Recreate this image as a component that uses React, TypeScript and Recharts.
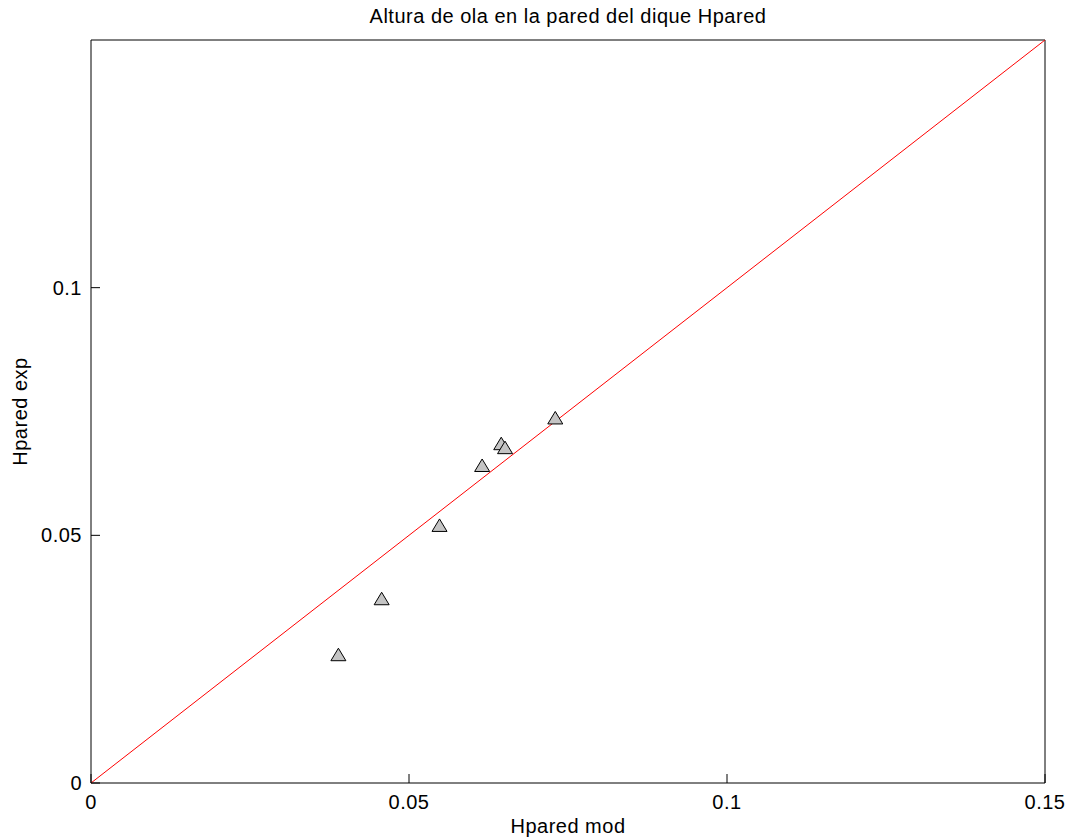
import React from "react"
import {
  ScatterChart,
  Scatter,
  XAxis,
  YAxis,
} from "recharts"

// Hpared mod (x) vs Hpared exp (y)
const hparedMod = [0.0389, 0.0457, 0.0548, 0.0615, 0.0645, 0.0651, 0.073]
const hparedExp = [0.0259, 0.0372, 0.052, 0.0641, 0.0685, 0.0677, 0.0737]

const identityX = [0, 0.15]
const identityY = [0, 0.15]

const xTicks = [0, 0.05, 0.1, 0.15]
const yTicks = [0, 0.05, 0.1]

const points = hparedMod.map((x, i) => ({ x, y: hparedExp[i] }))
const identity = identityX.map((x, i) => ({ x, y: identityY[i] }))

const FONT = "'Liberation Sans', Arial, Helvetica, sans-serif"
const FS = 20
const TICK = 9

const textStyle = { fontFamily: FONT, fontSize: FS, letterSpacing: 0.5, fill: "#000" }

const BottomTick = (props: any) => {
  const { x, y, payload } = props
  return (
    <g>
      <line x1={x} y1={y} x2={x} y2={y - TICK} stroke="#000" />
      <text x={x} y={y + 26} textAnchor="middle" {...textStyle}>
        {String(payload.value)}
      </text>
    </g>
  )
}

const TopTick = (props: any) => {
  const { x, y } = props
  return <line x1={x} y1={y} x2={x} y2={y + TICK} stroke="#000" />
}

const LeftTick = (props: any) => {
  const { x, y, payload } = props
  return (
    <g>
      <line x1={x} y1={y} x2={x + TICK} y2={y} stroke="#000" />
      <text x={x - 9} y={y + 7} textAnchor="end" {...textStyle}>
        {String(payload.value)}
      </text>
    </g>
  )
}

const RightTick = (props: any) => {
  const { x, y } = props
  return <line x1={x} y1={y} x2={x - TICK} y2={y} stroke="#000" />
}

const Triangle = (props: any) => {
  const { cx, cy } = props
  const pts = `${cx},${cy - 6.5} ${cx - 7.5},${cy + 6} ${cx + 7.5},${cy + 6}`
  return <polygon points={pts} fill="#c4c4c4" stroke="#000" strokeWidth={1} />
}

export default function App() {
  return (
    <div style={{ position: "absolute", left: 0, top: 0, background: "#fff" }}>
      <ScatterChart
        width={1069}
        height={840}
        margin={{ top: 39, right: 23, bottom: 0, left: 0 }}
      >
        <XAxis
          xAxisId="b"
          dataKey="x"
          type="number"
          domain={[0, 0.15]}
          ticks={xTicks}
          height={57}
          tickSize={0}
          tickMargin={0}
          tickLine={false}
          tick={<BottomTick />}
          axisLine={{ stroke: "#000" }}
          interval={0}
          label={{
            content: (p: any) => {
              const vb = p.viewBox
              return (
                <text x={vb.x + vb.width / 2} y={833} textAnchor="middle" {...textStyle}>
                  Hpared mod
                </text>
              )
            },
          }}
        />
        <XAxis
          xAxisId="t"
          dataKey="x"
          type="number"
          orientation="top"
          domain={[0, 0.15]}
          ticks={xTicks}
          height={1}
          tickSize={0}
          tickMargin={0}
          tickLine={false}
          tick={<TopTick />}
          axisLine={{ stroke: "#000" }}
          interval={0}
          label={{
            content: (p: any) => {
              const vb = p.viewBox
              return (
                <text x={vb.x + vb.width / 2} y={23} textAnchor="middle" {...textStyle}>
                  Altura de ola en la pared del dique Hpared
                </text>
              )
            },
          }}
        />
        <YAxis
          yAxisId="l"
          dataKey="y"
          type="number"
          domain={[0, 0.15]}
          ticks={yTicks}
          width={91}
          tickSize={0}
          tickMargin={0}
          tickLine={false}
          tick={<LeftTick />}
          axisLine={{ stroke: "#000" }}
          interval={0}
          label={{
            content: (p: any) => {
              const vb = p.viewBox
              const cy = vb.y + vb.height / 2
              return (
                <text
                  x={27}
                  y={cy}
                  textAnchor="middle"
                  transform={`rotate(-90, 27, ${cy})`}
                  {...textStyle}
                >
                  Hpared exp
                </text>
              )
            },
          }}
        />
        <YAxis
          yAxisId="r"
          dataKey="y"
          type="number"
          orientation="right"
          domain={[0, 0.15]}
          ticks={yTicks}
          width={1}
          tickSize={0}
          tickMargin={0}
          tickLine={false}
          tick={<RightTick />}
          axisLine={{ stroke: "#000" }}
          interval={0}
        />
        <Scatter
          data={identity}
          xAxisId="b"
          yAxisId="l"
          line={{ stroke: "#ff0000", strokeWidth: 1 }}
          shape={() => <g />}
          isAnimationActive={false}
        />
        <Scatter
          data={points}
          xAxisId="b"
          yAxisId="l"
          shape={<Triangle />}
          isAnimationActive={false}
        />
      </ScatterChart>
    </div>
  )
}
